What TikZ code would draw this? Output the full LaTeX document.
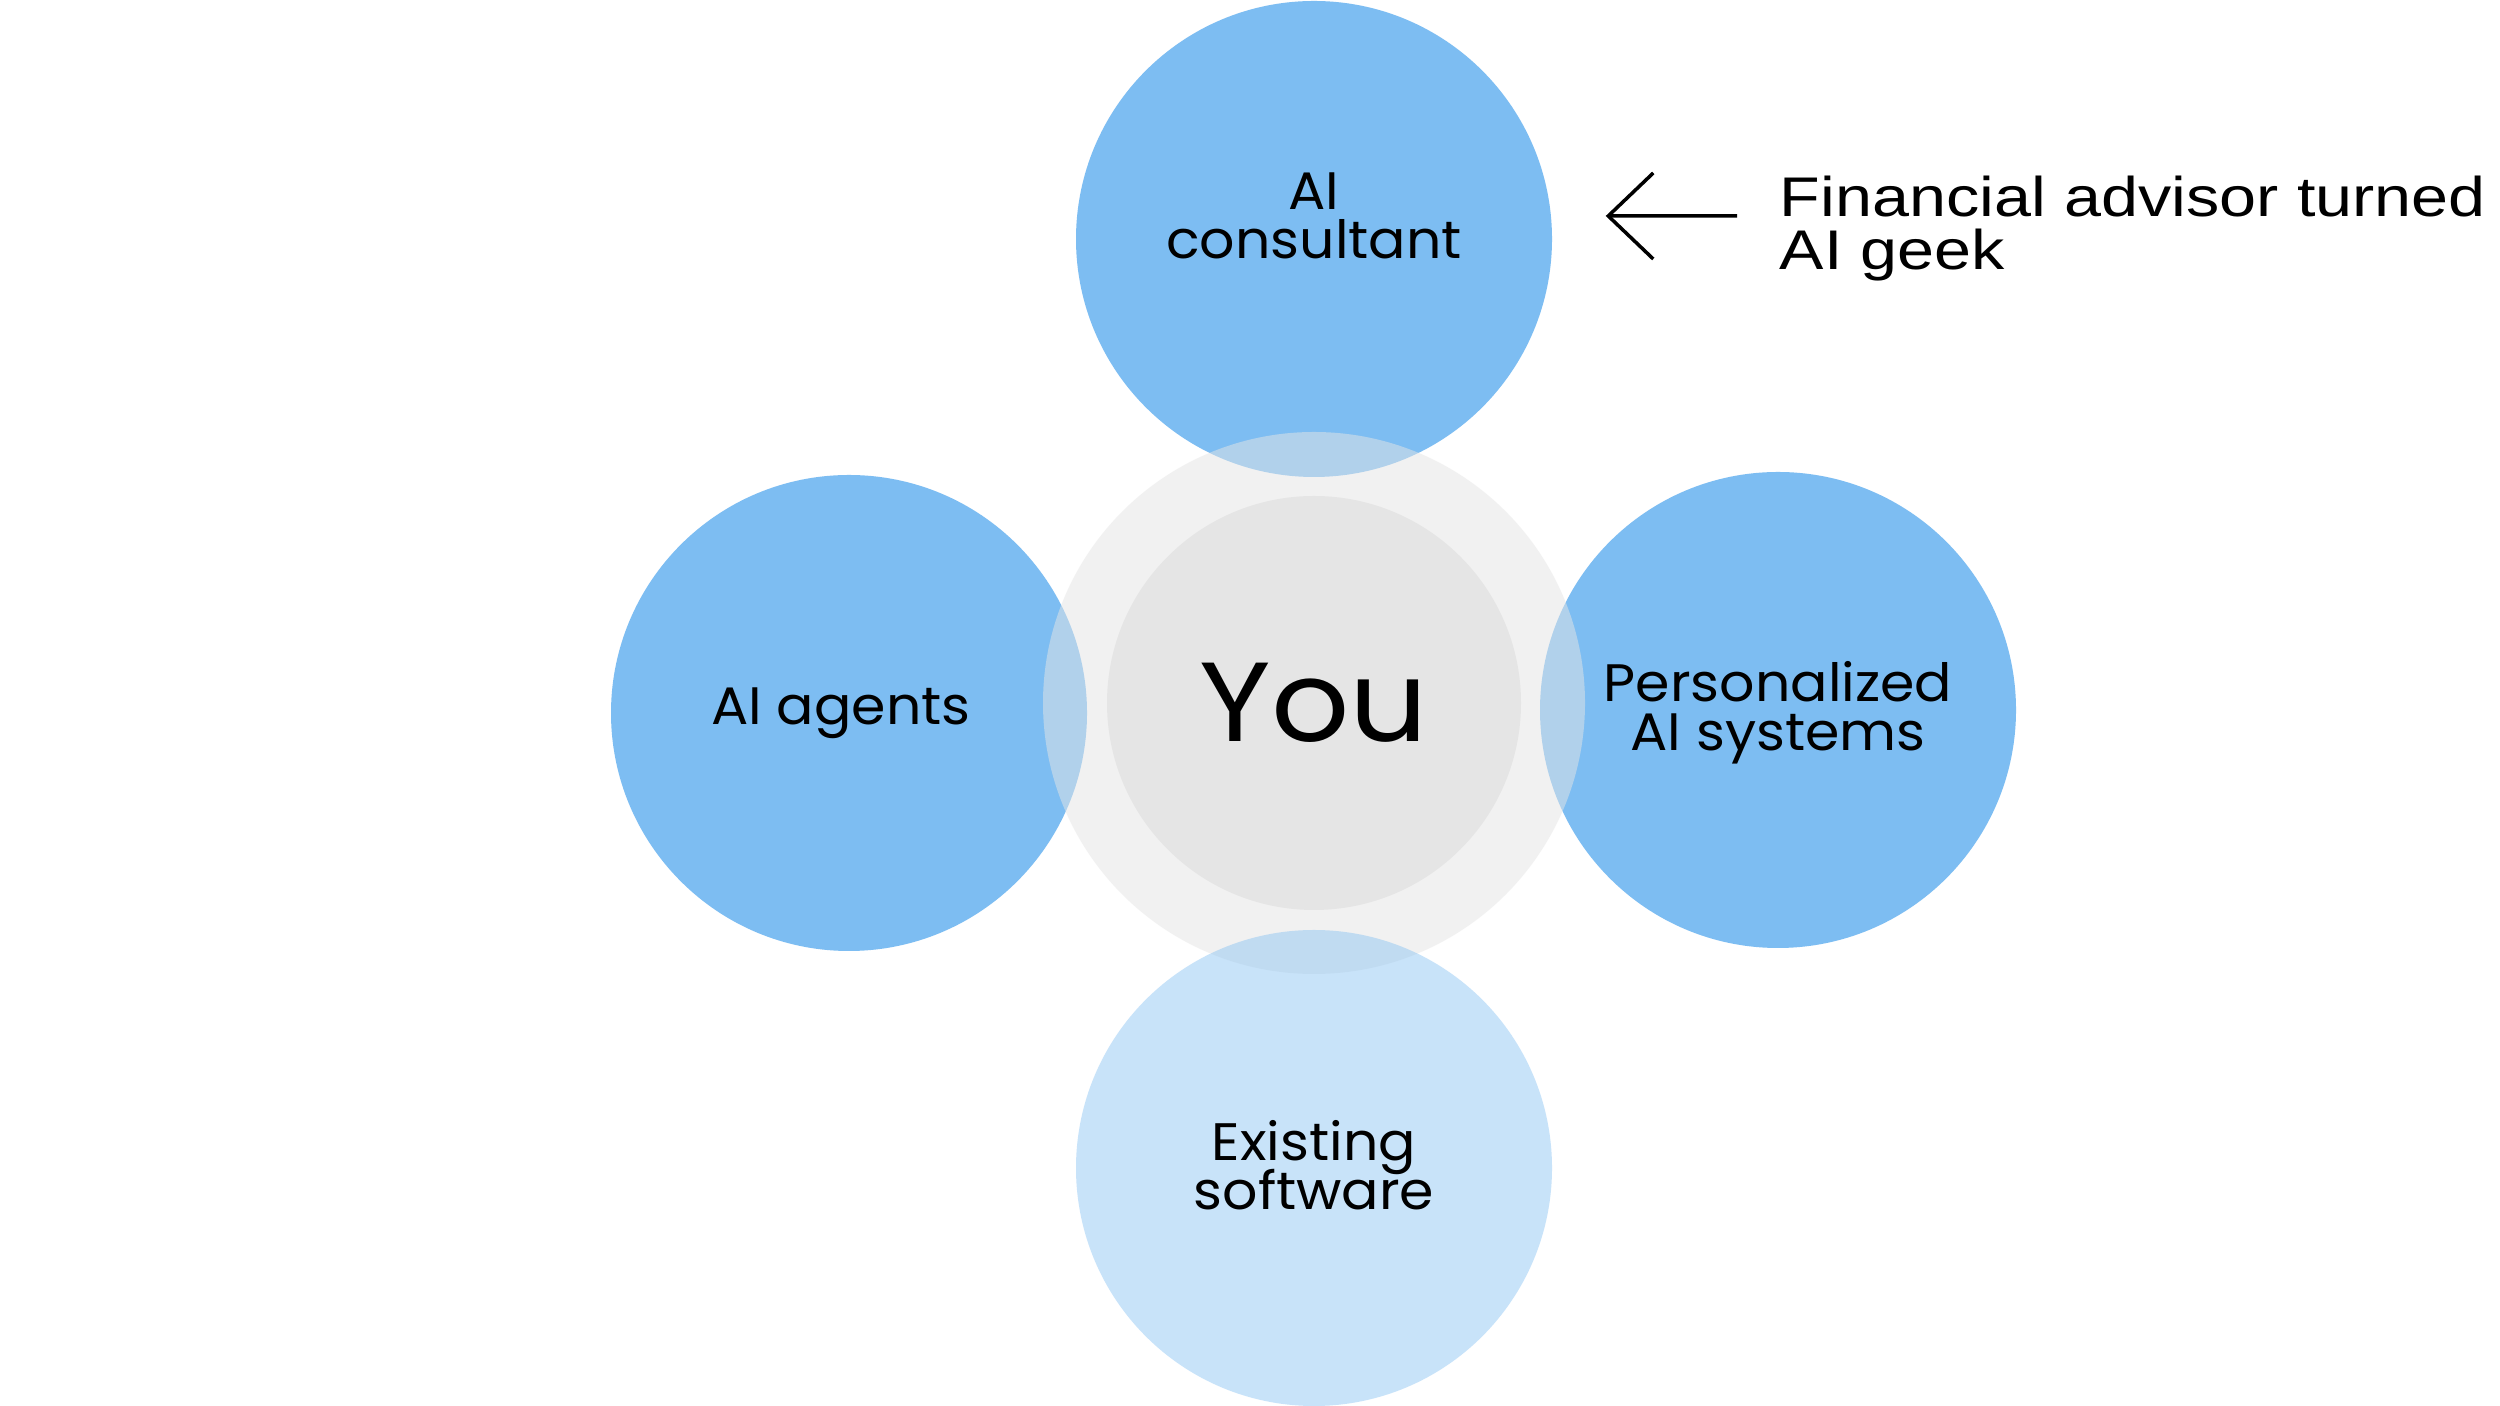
\documentclass[tikz,border=0pt]{standalone}
\usepackage{fontspec}
\usepackage{xcolor}
\usetikzlibrary{arrows.meta}
\setmainfont[FakeStretch=1.05]{Poppins}
\newfontfamily\notefont[FakeStretch=1.19]{Liberation Sans}
\definecolor{circblue}{HTML}{7DBDF2}
\definecolor{centgray}{HTML}{E5E5E5}
\newcommand{\FC}{\fontsize{15}{13.9}\selectfont\lineskiplimit=-10pt}
\newcommand{\FY}{\fontsize{32}{36}\selectfont\addfontfeature{FakeStretch=1.09}}
\newcommand{\FN}{\notefont\fontsize{15.9}{15.1}\selectfont}

\begin{document}
\begin{tikzpicture}
\tikzstyle{blob}=[circle,draw=none,fill=circblue,minimum size=4.76cm,inner sep=0pt]
\tikzstyle{texto}=[draw=none,fill=none,black,align=center,inner sep=0pt,font=\FC]
\tikzstyle{pointer}=[black,line width=1pt,-{Straight Barb[length=4.5mm,width=8.6mm]}]

\fill[white] (0,0) rectangle (25,14.06);
\useasboundingbox (0,0) rectangle (25,14.06);

\node[blob] (consult)  at (13.14,11.67) {};
\node[blob] (agents)   at (8.49,6.93)   {};
\node[blob] (personal) at (17.78,6.96)  {};
\node[circle,fill=centgray,fill opacity=0.5,minimum size=5.42cm] (halo) at (13.14,7.03) {};
\node[circle,fill=centgray,minimum size=4.14cm] (you) at (13.14,7.03) {};
\node[blob,fill opacity=0.42] (existing) at (13.14,2.38) {};

\node[texto] (consultT)  at ([yshift=2.3mm]consult.center) {AI\\consultant};
\node[texto] (agentsT)   at ([xshift=-0.8mm]agents.center) {AI agents};
\node[texto] (personalT) at ([yshift=-0.3mm]personal.center) {Personalized\\AI systems};
\node[texto] (existingT) at ([yshift=0.3mm]existing.center) {Existing\\software};
\node[texto,font=\FY] (youT) at (you.center) {You};

\node[texto,font=\FN,align=left,anchor=west] (note) at (17.79,11.77) {Financial advisor turned\\AI geek};
\draw[pointer] ([shift={(-0.42,0.13)}]note.west) -- ([shift={(0.53,0.23)}]consult.east);
\end{tikzpicture}
\end{document}
